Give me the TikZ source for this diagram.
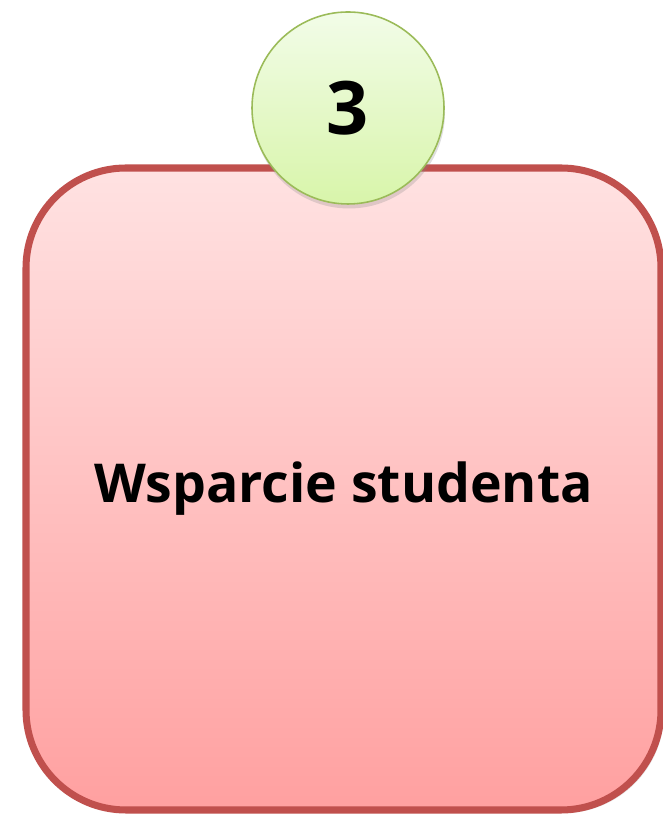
\documentclass[tikz,border=0pt]{standalone}
\usepackage{fontspec}
\setmainfont{Open Sans}
\usepackage{tikz}
\usetikzlibrary{shadows}
\definecolor{boxred}{RGB}{192, 80, 77}
\definecolor{boxredL}{RGB}{255, 226, 226}
\definecolor{boxredH}{RGB}{255, 160, 160}
\definecolor{numgreen}{RGB}{155, 187, 89}
\definecolor{numgreenL}{RGB}{242, 252, 232}
\definecolor{numgreenH}{RGB}{216, 245, 170}

\begin{document}
\begin{tikzpicture}
			\useasboundingbox (0,0) rectangle (13.26,16.32);
			\node (box) at (6.87,6.54) [rectangle, rounded corners = 2cm, draw = boxred, line width = 4pt,
				top color = boxredL, bottom color = boxredH, minimum width = 12.7cm, minimum height = 12.84cm,
				drop shadow = {opacity = 0.2, shadow xshift = 0.06cm, shadow yshift = -0.06cm},
				font = \bfseries\fontsize{30.5}{36}\selectfont] {Wsparcie studenta};
			\node (num) at (6.96,14.16) [circle, draw = numgreen, line width = 0.9pt,
				top color = numgreenL, bottom color = numgreenH, minimum size = 3.84cm, inner sep = 0pt,
				drop shadow = {opacity = 0.25, shadow xshift = 0.02cm, shadow yshift = -0.09cm},
				font = \bfseries\fontsize{42}{48}\selectfont] {3};
			\end{tikzpicture}
\end{document}
